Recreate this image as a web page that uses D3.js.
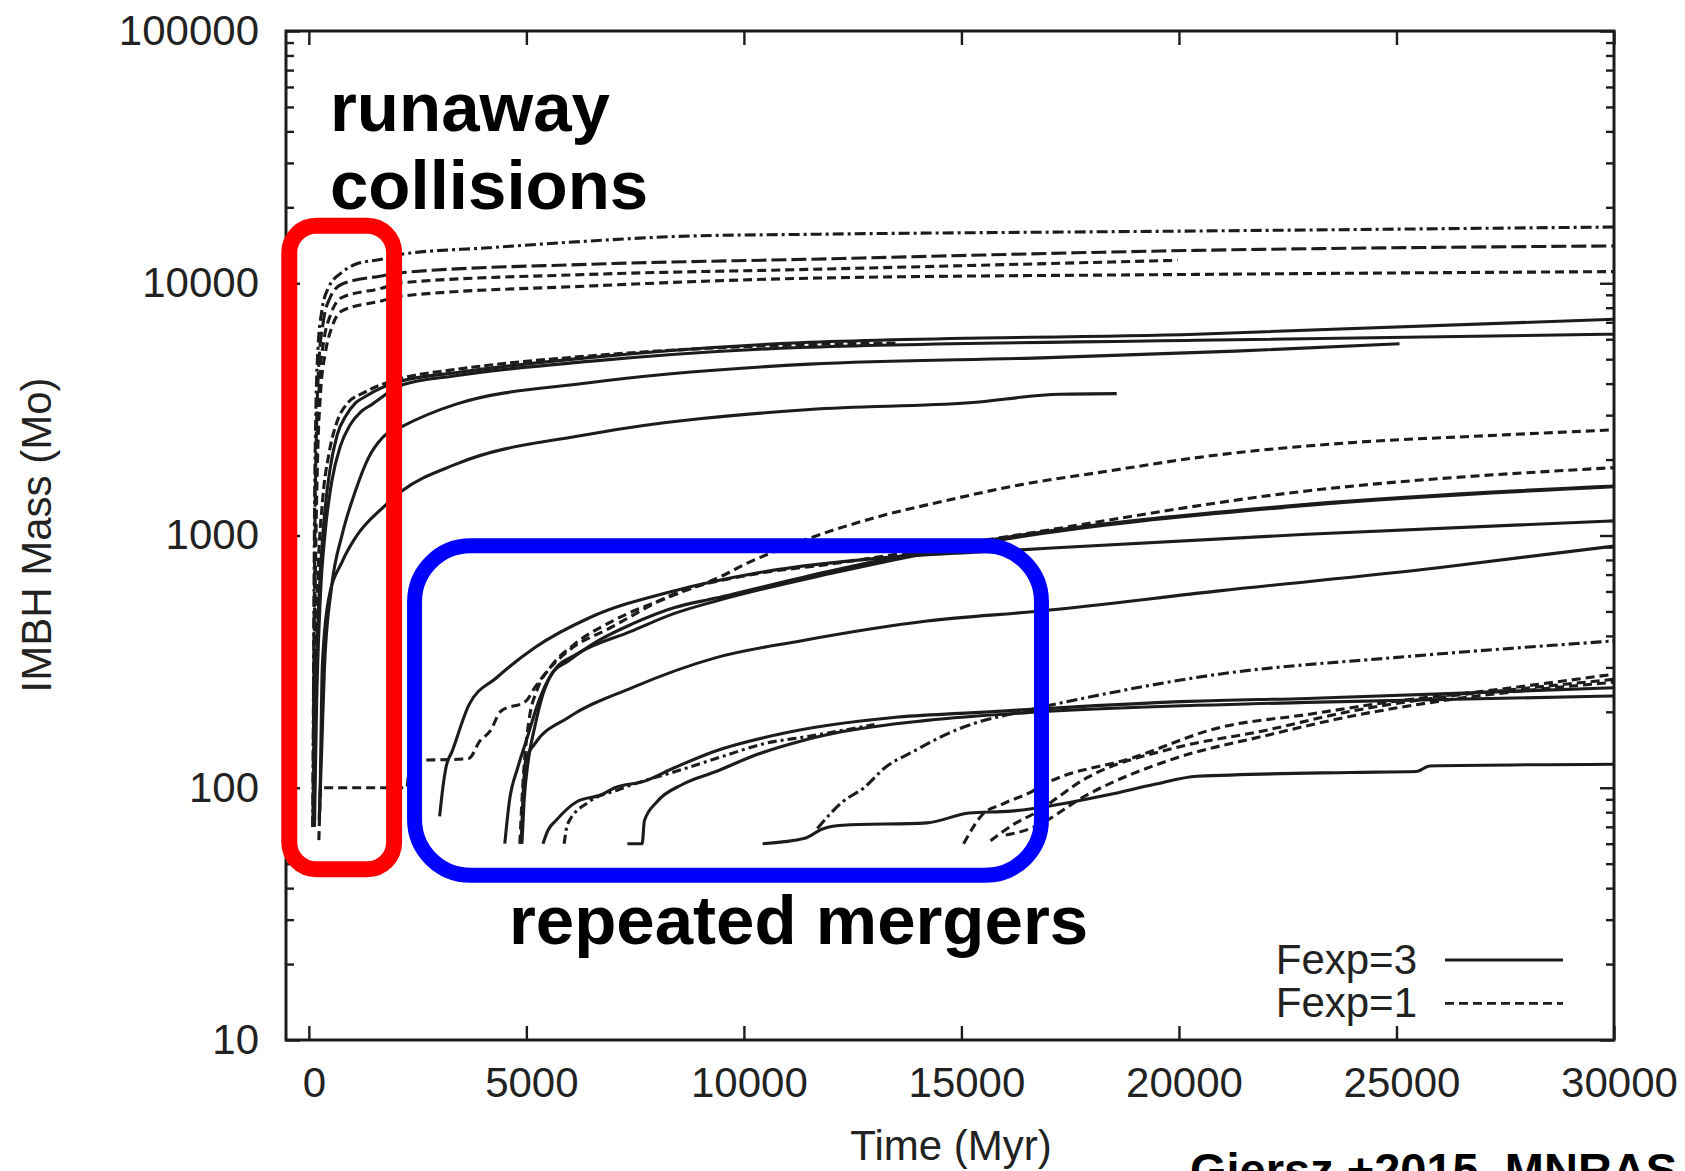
<!DOCTYPE html>
<html>
<head>
<meta charset="utf-8">
<script src="https://cdn.jsdelivr.net/npm/d3@7"></script>
<style>
  html, body { margin: 0; padding: 0; background: #ffffff; }
  svg { display: block; }
</style>
</head>
<body>
<svg id="chart" width="1685" height="1171"></svg>
<script>
// ---- axis ticks and legend ----
const xTickValues = [0, 5000, 10000, 15000, 20000, 25000, 30000];
const yTickValues = [10, 100, 1000, 10000, 100000];
const legendLabels = ["Fexp=3", "Fexp=1"];

// ---- IMBH mass growth tracks: [time (Myr), mass (Msun)] ----
// runaway-collision models (fast early growth)
const runA = [[90,70],[110,300],[130,1200],[160,3000],[210,5500],[300,7800],[450,9600],[754,11020],[1070,11890],[1670,12450],[2137,13040],[4135,13830],[6440,14700],[8750,15390],[11510,15630],[20390,16110],[30000,16710]];
const runB = [[95,70],[115,300],[140,1100],[175,2600],[230,4800],[330,7000],[480,8700],[754,9910],[1670,10690],[2137,11020],[6440,11890],[11510,12450],[20390,13500],[30000,14060]];
const runC = [[100,70],[120,300],[150,1000],[190,2300],[250,4200],[350,6000],[500,7500],[754,8770],[1670,9550],[2137,10050],[6440,10840],[11510,11350],[19970,12330]];
const runD = [[105,70],[125,280],[160,900],[200,2000],[270,3700],[380,5300],[530,6700],[754,7760],[1670,8510],[2137,8900],[6440,9750],[11510,10470],[20390,10840],[30000,11120]];
const runE = [[110,70],[150,200],[230,550],[340,1100],[480,1800],[650,2500],[860,3000],[1070,3350],[1290,3550],[1670,3850],[2137,4100],[3370,4420],[6440,5070],[11280,5810],[20390,6280],[30000,7200]];
const runE2 = [[100,70],[140,250],[210,700],[320,1400],[460,2100],[640,2800],[860,3300],[1290,3700],[2137,4200],[3370,4550],[6440,5150],[11280,5700],[13500,5800]];
const runF = [[130,70],[175,200],[260,550],[380,1050],[530,1650],[720,2250],[950,2750],[1200,3100],[1440,3300],[2137,3950],[3370,4300],[6440,4900],[11280,5560],[20390,5940],[30000,6280]];
const runG = [[240,75],[300,150],[359,300],[520,620],[770,1015],[1070,1500],[1370,2030],[1690,2440],[2137,2700],[3370,3310],[6440,4030],[11510,4780],[17000,5070],[21300,5380],[25070,5760]];
const runH = [[240,75],[260,100],[309,300],[447,550],[770,790],[1070,980],[1690,1285],[2137,1500],[3370,1914],[6440,2520],[11510,3160],[15180,3360],[17280,3630],[18570,3650]];
// repeated-merger models (late, slow growth)
const runR1 = [[3006,77],[3080,100],[3151,120],[3298,140],[3686,214],[4315,273],[5189,359],[6450,472],[8390,603],[10330,712],[13240,817],[15890,868],[22940,1012],[30000,1143]];
const runR2 = [[230,62],[250,80],[270,100],[2250,100],[2330,128],[3540,130],[3686,131],[3928,153],[4170,168],[4412,201],[4995,221],[5189,249],[5479,290],[5965,349],[6936,431],[8436,590],[10200,701],[11960,769],[15890,980],[22940,1502],[30000,1858]];
const runR3 = [[4504,60],[4608,88],[4801,120],[4995,153],[5288,221],[5578,282],[5965,318],[6645,382],[7420,445],[8390,517],[9361,565],[11960,722],[15490,950],[22940,1329],[30000,1572]];
const runR4 = [[4898,60],[4947,88],[5043,128],[5189,173],[5382,235],[5627,290],[6159,339],[7420,418],[8390,490],[9361,550],[11960,705],[15490,935],[22940,1315],[30000,1560]];
const runR5 = [[4880,60],[4920,90],[4990,130],[5189,149],[5965,190],[7420,249],[9361,328],[11300,382],[14210,458],[16810,502],[20920,603],[25960,745],[30000,908]];
const runR6 = [[4850,60],[4900,90],[4960,130],[5060,185],[5250,245],[5550,300],[6100,370],[7000,460],[8390,580],[9580,702],[10020,769],[10640,855],[11440,966],[13020,1178],[14610,1371],[16420,1596],[18140,1775],[20780,2075],[24210,2350],[26790,2474],[30000,2624]];
const runR7 = [[5382,60],[5500,68],[5675,74],[6159,88],[6740,94],[7033,100],[7700,106],[8400,120],[9300,139],[10800,163],[13440,190],[15200,198],[20230,220],[22940,226],[30000,249]];
const runR8 = [[5868,60],[5950,72],[6440,88],[7100,98],[7590,105],[8500,117],[9500,133],[10500,150],[11500,160],[13000,178]];
const runR9 = [[7323,60],[7662,60],[7713,74],[8003,88],[8584,103],[9361,116],[10330,136],[11300,153],[12270,167],[14210,185],[16810,200],[22940,218],[30000,231]];
const runR10 = [[11690,69],[12270,88],[12760,100],[13240,120],[13920,140],[14690,164],[15470,184],[16140,196],[18000,230],[20920,282],[24950,328],[30000,382]];
const runR11 = [[10430,60],[11400,63],[11790,68.5],[12270,71],[14210,72.6],[15180,79.4],[16140,80.8],[16700,83],[18400,94],[19420,103],[20420,111],[23950,115],[25460,116],[25760,122],[30000,124]];
const runS1 = [[15050,60],[15490,78.5],[15930,86],[16640,97],[16900,103],[18910,131],[20920,173],[22940,195],[24950,220],[26970,241],[30000,282]];
const runS2 = [[15670,61.6],[16200,71.6],[16640,78.5],[17900,110],[19920,144],[21930,168],[23950,201],[25960,228],[27970,248],[30000,269]];
const runS3 = [[16020,65],[16370,67],[16640,69.5],[17900,94],[19920,131],[21930,160],[23950,192],[25960,220],[30000,262]];

// which tidal-radius exponent each track belongs to
const fexp3Runs = [runE, runF, runG, runH, runR1, runR3, runR4, runR5, runR7, runR9, runR11];
const fexp1Runs = [runA, runB, runC, runD, runE2, runR2, runR6, runR8, runR10, runS1, runS2, runS3];

// ---- drawing ----
const svg = d3.select("#chart");
const ink = "#1c1c1c";
const font = "'Liberation Sans', Arial, Helvetica, sans-serif";

const x = d3.scaleLinear().domain([-525, 30000]).range([286, 1614]);
const y = d3.scaleLog().domain([10, 100000]).range([1040, 31]);

svg.append("rect").attr("width", 1685).attr("height", 1171).attr("fill", "#ffffff");

// log minor ticks 2..9 in every decade
const minorY = [];
for (let e = 1; e < 5; e++) for (let k = 2; k < 10; k++) minorY.push(k * Math.pow(10, e));

function styleAxis(g) {
  g.select(".domain").remove();
  g.selectAll("line").attr("stroke", ink).attr("stroke-width", 2.4);
  g.selectAll("text").attr("fill", "#222").attr("font-family", font).attr("font-size", 42);
}

// bottom axis with labels
svg.append("g").attr("transform", "translate(0,1040)")
  .call(d3.axisBottom(x).tickValues(xTickValues).tickSize(-14).tickSizeOuter(0)
        .tickPadding(27).tickFormat(d3.format("d")))
  .call(styleAxis)
  .selectAll("text").attr("dx", 5);
// top mirror ticks
svg.append("g").attr("transform", "translate(0,31)")
  .call(d3.axisTop(x).tickValues(xTickValues).tickSize(-14).tickSizeOuter(0).tickFormat(""))
  .call(styleAxis);
// left axis with labels
svg.append("g").attr("transform", "translate(286,0)")
  .call(d3.axisLeft(y).tickValues(yTickValues).tickSize(-14).tickSizeOuter(0)
        .tickPadding(27).tickFormat(d3.format("d")))
  .call(styleAxis);
svg.append("g").attr("transform", "translate(286,0)")
  .call(d3.axisLeft(y).tickValues(minorY).tickSize(-8).tickSizeOuter(0).tickFormat(""))
  .call(styleAxis);
// right mirror ticks
svg.append("g").attr("transform", "translate(1614,0)")
  .call(d3.axisRight(y).tickValues(yTickValues).tickSize(-14).tickSizeOuter(0).tickFormat(""))
  .call(styleAxis);
svg.append("g").attr("transform", "translate(1614,0)")
  .call(d3.axisRight(y).tickValues(minorY).tickSize(-8).tickSizeOuter(0).tickFormat(""))
  .call(styleAxis);

// plot frame
svg.append("rect")
  .attr("x", x.range()[0]).attr("y", y.range()[1])
  .attr("width", x.range()[1] - x.range()[0]).attr("height", y.range()[0] - y.range()[1])
  .attr("fill", "none").attr("stroke", ink).attr("stroke-width", 3);

// axis titles
svg.append("text")
  .attr("transform", "translate(51,535) rotate(-90)")
  .attr("text-anchor", "middle").attr("font-family", font).attr("font-size", 42).attr("fill", "#222")
  .text("IMBH Mass (Mo)");
svg.append("text")
  .attr("x", 951).attr("y", 1160)
  .attr("text-anchor", "middle").attr("font-family", font).attr("font-size", 42).attr("fill", "#222")
  .text("Time (Myr)");

// mass tracks
svg.append("clipPath").attr("id", "plotClip").append("rect")
  .attr("x", 286).attr("y", 31).attr("width", 1328).attr("height", 1009);
const tracks = svg.append("g").attr("clip-path", "url(#plotClip)");
const line = d3.line().x(d => x(d[0])).y(d => y(d[1])).curve(d3.curveMonotoneX);

tracks.selectAll("path.f3").data(fexp3Runs).join("path")
  .attr("class", "f3").attr("d", line)
  .attr("fill", "none").attr("stroke", ink).attr("stroke-width", 3.1)
  .attr("stroke-linejoin", "round");

// dash pattern for each Fexp=1 track, in the same order as fexp1Runs
const fexp1Dashes = ["11,4,3,4", "15,5", "9,5", "9,5", "9,4", "9,5", "9,5", "9,4,3,4", "11,4,3,4", "9,5", "9,5", "9,5"];
tracks.selectAll("path.f1").data(fexp1Runs).join("path")
  .attr("class", "f1").attr("d", line)
  .attr("fill", "none").attr("stroke", ink).attr("stroke-width", 3.1)
  .attr("stroke-dasharray", (d, i) => fexp1Dashes[i]);

// legend
const legend = svg.append("g");
legendLabels.forEach((lab, i) => {
  const ly = 960 + i * 43.3;
  legend.append("text")
    .attr("x", 1417).attr("y", ly + 14).attr("text-anchor", "end")
    .attr("font-family", font).attr("font-size", 42).attr("fill", "#222").text(lab);
  legend.append("line")
    .attr("x1", 1445).attr("x2", 1563).attr("y1", ly).attr("y2", ly)
    .attr("stroke", ink).attr("stroke-width", 2.8)
    .attr("stroke-dasharray", i === 0 ? null : "9,5");
});

// highlighted regimes (boxes given in data units)
const redBox = [[-450, 47.5], [1960, 16900]];
const blueBox = [[2430, 45], [16840, 910]];
function roundBox(box, color, r, w) {
  const x0 = x(box[0][0]), x1 = x(box[1][0]);
  const y0 = y(box[1][1]), y1 = y(box[0][1]);
  svg.append("rect")
    .attr("x", x0).attr("y", y0).attr("width", x1 - x0).attr("height", y1 - y0)
    .attr("rx", r).attr("ry", r)
    .attr("fill", "none").attr("stroke", color).attr("stroke-width", w);
}
roundBox(redBox, "#ff0000", 27, 16);
roundBox(blueBox, "#0000ff", 56, 15);

// annotations
const bold = (tx, ty, size, str) => svg.append("text")
  .attr("x", tx).attr("y", ty).attr("font-family", font).attr("font-weight", "bold")
  .attr("font-size", size).attr("fill", "#000").text(str);
bold(330, 131, 69, "runaway");
bold(330, 209, 69, "collisions");
bold(509, 944, 69, "repeated mergers");
bold(1190, 1186, 47, "Giersz +2015, MNRAS");
</script>
</body>
</html>
